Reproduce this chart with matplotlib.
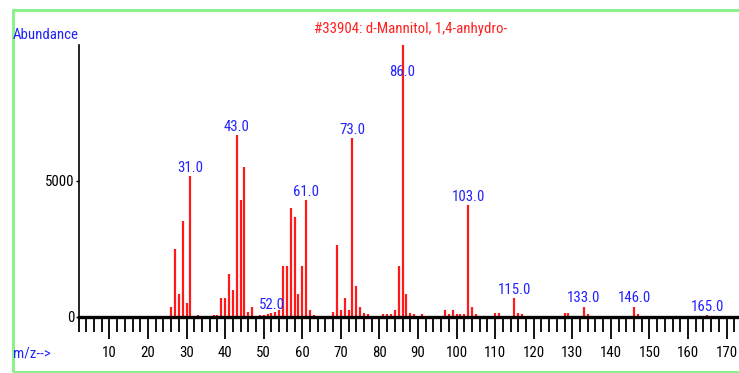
import matplotlib
matplotlib.use("Agg")
import matplotlib.pyplot as plt
from matplotlib import font_manager as fm
from matplotlib.font_manager import FontProperties
from matplotlib.patches import Rectangle
from matplotlib.textpath import TextPath
from matplotlib.ticker import MultipleLocator

# Mass spectrum of library entry #33904 (d-Mannitol, 1,4-anhydro-)
mz = [26, 27, 28, 29, 30, 31, 33, 37, 38, 39, 40, 41, 42, 43, 44, 45, 46, 47,
      49, 50, 51, 52, 53, 54, 55, 56, 57, 58, 59, 60, 61, 62, 63, 68, 69, 70,
      71, 72, 73, 74, 75, 76, 77, 81, 82, 83, 84, 85, 86, 87, 88, 89, 91, 97,
      98, 99, 100, 101, 102, 103, 104, 105, 110, 111, 115, 116, 117, 128, 129,
      133, 134, 146, 147, 165]
abundance = [380, 2490, 845, 3540, 525, 5180, 60, 80, 80, 690, 690, 1580, 990,
             6690, 4300, 5520, 200, 380, 80, 80, 100, 150, 200, 260, 1875, 1875,
             3995, 3690, 845, 1875, 4300, 250, 60, 200, 2650, 250, 690, 250,
             6570, 1140, 380, 150, 120, 100, 100, 100, 250, 1875, 10000, 845,
             150, 120, 100, 250, 100, 250, 100, 100, 100, 4120, 380, 100, 150,
             150, 690, 150, 100, 150, 150, 380, 100, 380, 100, 80]
labelled_mz = [31, 43, 52, 61, 73, 86, 103, 115, 133, 146, 165]
y_ticks = [0, 5000]
y_tick_labels = ["0", "5000"]
title = "#33904: d-Mannitol, 1,4-anhydro-"
y_title = "Abundance"
x_title = "m/z-->"

W, H, DPI = 739, 373, 100


def pick_font():
    """Prefer a narrow sans face; fall back to Liberation Sans."""
    narrow = ("condensed", "extra-condensed", "semi-condensed", "ultra-condensed")
    families = ["Liberation Sans Narrow", "Roboto Condensed", "Open Sans Condensed",
                "Noto Sans", "DejaVu Sans", "Roboto", "Open Sans"]
    for fam in families:
        for f in fm.fontManager.ttflist:
            if f.name != fam or f.style != "normal":
                continue
            if f.weight not in (400, "normal", "regular", "book"):
                continue
            if fam == "Liberation Sans Narrow" or str(f.stretch) in narrow:
                return FontProperties(fname=f.fname)
    return FontProperties(family="Liberation Sans")


base_fp = pick_font()
# size the type so the title spans ~192 px, as the panel lettering is compact
w10 = TextPath((0, 0), title, size=10, prop=base_fp).get_extents().width
FS = 10 * 192 / (w10 * DPI / 72)
fp = base_fp.copy()
fp.set_size(FS)

fig = plt.figure(figsize=(W / DPI, H / DPI), dpi=DPI)
fig.patch.set_facecolor("white")

# plot area: x from m/z 2 at pixel 78.5, 3.858 px per unit; y 0..10000 over 272 px
x0_px, base_px, top_px = 78.5, 317, 45
px_per_mz = 3.858
ax = fig.add_axes([x0_px / W, (H - base_px) / H, (W - x0_px) / W,
                   (base_px - top_px) / H])
ax.set_xlim(2, 2 + (W - x0_px) / px_per_mz)
ax.set_ylim(0, 10000)
ax.set_facecolor("none")

ax.vlines(mz, 0, abundance, colors="#ff1a1a", linewidth=1.6, zorder=2)

for s in ("top", "right"):
    ax.spines[s].set_visible(False)
ax.spines["left"].set_linewidth(1.2)
ax.spines["bottom"].set_linewidth(2.4)
ax.spines["left"].set_zorder(3)
ax.spines["bottom"].set_zorder(3)

ax.xaxis.set_major_locator(MultipleLocator(10))
ax.xaxis.set_minor_locator(MultipleLocator(2))
ax.tick_params(axis="x", which="major", direction="out", length=16, width=1.3,
               pad=5, colors="black")
ax.tick_params(axis="x", which="minor", direction="out", length=10.5, width=1.3)
ax.set_yticks(y_ticks)
ax.set_yticklabels(y_tick_labels)
ax.tick_params(axis="y", direction="out", length=2, width=1, pad=1)
for lab in ax.get_xticklabels() + ax.get_yticklabels():
    lab.set_fontproperties(fp)

peak_height = dict(zip(mz, abundance))
for m in labelled_mz:
    h = min(peak_height[m], 8700)
    ax.annotate(f"{m:.1f}", xy=(m, h), xytext=(0, 3), textcoords="offset points",
                ha="center", va="baseline", color="#2222ff", fontproperties=fp,
                zorder=4)

fig.text(411 / W, 1 - 33 / H, title, ha="center", va="baseline",
         color="#ff2020", fontproperties=fp)
fig.text(13 / W, 1 - 39 / H, y_title, ha="left", va="baseline",
         color="#2222ff", fontproperties=fp)
fig.text(13 / W, 1 - 354 / H, x_title, ha="left", va="center",
         color="#2222ff", fontproperties=fp)

# light green frame around the panel, open on the right
fig.patches.append(Rectangle((12.7 / W, 1 - 372 / H), (W + 20 - 12.7) / W,
                             362 / H, transform=fig.transFigure, fill=False,
                             edgecolor="#8cf08c", linewidth=2.2))

fig.savefig("out.png", dpi=DPI)
